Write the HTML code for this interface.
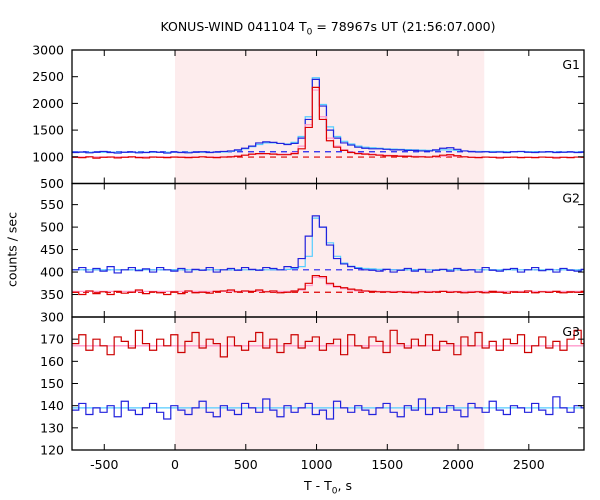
<!DOCTYPE html>
<html><head><meta charset="utf-8"><style>
body{margin:0;background:#fff}
svg{display:block;font-family:"DejaVu Sans","Liberation Sans",sans-serif}
</style></head><body>
<svg id="chart" width="600" height="500"></svg>
<script>
const tStart=-730, binW=50;
const shadeRange=[0,2185];
const xTicks=[-500,0,500,1000,1500,2000,2500];
const g1Ticks=[500,1000,1500,2000,2500,3000];
const g2Ticks=[300,350,400,450,500,550];
const g3Ticks=[120,130,140,150,160,170];
const g1Blue=[1080,1090,1075,1085,1100,1080,1070,1085,1090,1075,1080,1095,1085,1070,1090,1080,1075,1085,1095,1080,1090,1100,1110,1130,1160,1200,1260,1280,1270,1250,1230,1250,1350,1700,2450,1950,1500,1350,1260,1220,1180,1160,1150,1150,1140,1130,1130,1120,1120,1110,1110,1130,1160,1170,1140,1110,1100,1090,1095,1085,1090,1080,1095,1100,1085,1080,1090,1095,1080,1085,1090,1080,1085];
const g1BlueModel=[1085,1085,1085,1085,1085,1085,1085,1085,1085,1085,1085,1085,1085,1085,1085,1085,1085,1085,1085,1085,1085,1090,1100,1120,1150,1190,1230,1260,1260,1250,1240,1270,1380,1750,2480,1980,1560,1380,1290,1240,1200,1180,1170,1160,1150,1145,1140,1135,1130,1125,1120,1120,1130,1130,1120,1110,1100,1100,1100,1100,1100,1095,1095,1095,1095,1095,1090,1090,1090,1090,1090,1090,1090];
const g1Red=[990,985,1000,975,990,995,980,990,1000,985,980,995,990,985,995,990,985,990,1000,990,985,995,1000,1010,1030,1050,1060,1060,1050,1040,1040,1060,1150,1550,2300,1700,1300,1180,1120,1080,1060,1050,1040,1030,1020,1020,1010,1010,1000,1000,995,1010,1030,1040,1020,1000,990,985,995,990,980,990,995,985,990,985,995,990,980,990,985,995,990];
const g1RedModel=[1000,1000,1000,1000,1000,1000,1000,1000,1000,1000,1000,1000,1000,1000,1000,1000,1000,1000,1000,1000,1000,1000,1005,1015,1030,1045,1055,1060,1055,1050,1050,1080,1200,1600,2250,1750,1350,1200,1130,1090,1070,1060,1050,1040,1030,1025,1020,1015,1010,1005,1000,1000,1010,1020,1010,1000,995,995,995,995,995,995,995,995,995,995,995,995,995,995,995,995,995];
const g1BlueBg=1094, g1RedBg=995;
const g2Blue=[405,410,400,408,402,412,398,405,410,403,407,400,410,405,402,408,400,406,404,410,400,405,408,404,410,406,404,410,408,405,412,410,430,480,525,500,460,430,418,412,408,405,404,402,406,400,404,408,402,406,400,404,406,402,408,404,405,400,410,404,402,406,408,400,405,410,403,406,400,408,404,402,406];
const g2BlueModel=[405,405,405,405,405,405,405,405,405,405,405,405,405,405,405,405,405,405,405,405,405,405,405,405,405,405,405,405,405,405,406,408,412,435,520,500,465,435,420,413,410,408,407,406,406,405,405,405,405,405,405,405,405,405,405,405,405,405,405,405,405,405,405,405,405,405,405,405,405,405,405,405,405];
const g2Red=[355,350,358,352,356,350,357,353,355,360,352,356,354,350,356,352,358,354,355,353,357,358,360,356,358,357,360,356,358,354,355,358,362,375,392,390,375,368,365,362,360,358,357,356,356,355,356,355,354,356,355,356,357,355,356,354,355,356,354,357,355,353,356,355,358,354,356,355,357,354,356,355,357];
const g2RedModel=[357,357,357,357,357,357,357,357,357,357,357,357,357,357,357,357,357,357,357,357,357,357,357,357,357,357,357,357,357,357,357,358,360,370,388,387,372,366,363,360,358,357,357,357,357,357,357,357,357,357,357,357,357,357,357,357,357,357,357,357,357,357,357,357,357,357,357,357,357,357,357,357,357];
const g2BlueBg=405, g2RedBg=355;
const g3Red=[168,172,165,170,167,163,171,169,166,174,168,165,170,167,172,164,169,173,166,170,168,162,171,167,165,169,173,166,170,164,168,172,166,169,171,165,168,170,163,172,167,166,171,169,164,174,168,166,170,167,172,165,169,168,163,171,167,173,166,169,165,170,168,172,164,167,171,166,169,165,170,174,168];
const g3Blue=[138,141,136,139,137,140,135,142,138,136,139,141,137,134,140,138,136,139,142,137,135,140,138,136,141,139,137,143,138,135,140,137,139,141,136,138,134,142,139,137,140,138,136,139,141,137,135,140,138,143,136,139,137,140,138,135,141,139,137,142,138,136,140,139,137,141,138,136,144,139,137,140,139];
const g3RedModel=167, g3BlueModel=139;

const NS="http://www.w3.org/2000/svg";
const svg=document.getElementById('chart');
const L=72,R=584;
const xMin=-728,xMax=2890;
const X=v=>L+(v-xMin)/(xMax-xMin)*(R-L);
function mk(tag,attrs,parent){const e=document.createElementNS(NS,tag);for(const k in attrs)e.setAttribute(k,attrs[k]);(parent||svg).appendChild(e);return e;}
const panels=[
 {name:'g1',top:50,bot:183.5,min:500,max:3000,ticks:g1Ticks,label:'G1',series:[[g1BlueModel,'#55ccff','model'],[g1Blue,'#2222dd','step'],[g1RedModel,'#ff99cc','model'],[g1Red,'#dd0000','step']],bgs:[[g1BlueBg,'#2222ee'],[g1RedBg,'#dd0000']]},
 {name:'g2',top:183.5,bot:317,min:300,max:597,ticks:g2Ticks,label:'G2',series:[[g2BlueModel,'#55ccff','model'],[g2Blue,'#2222dd','step'],[g2RedModel,'#ff99cc','model'],[g2Red,'#dd0000','step']],bgs:[[g2BlueBg,'#2222ee'],[g2RedBg,'#dd0000']]},
 {name:'g3',top:317,bot:450,min:120,max:180,ticks:g3Ticks,label:'G3',series:[[g3Red,'#cc0000','step'],[g3Blue,'#2222dd','step']],flat:[[g3RedModel,'#ff99cc'],[g3BlueModel,'#55ccff']]}
];
const sh=mk('rect',{x:X(shadeRange[0]),y:50,width:X(shadeRange[1])-X(shadeRange[0]),height:400,fill:'#fdeced'});


panels.forEach((p,pi)=>{
 const Y=v=>p.bot-(v-p.min)/(p.max-p.min)*(p.bot-p.top);
 const g=mk('g',{});
 
 
 const cp=mk('clipPath',{id:'c'+pi},g);mk('rect',{x:L,y:p.top,width:R-L,height:p.bot-p.top},cp);
 const inner=mk('g',{'clip-path':'url(#c'+pi+')'},g);
 (p.bgs||[]).forEach(b=>{const l=mk('line',{x1:L,x2:R,y1:Y(b[0]),y2:Y(b[0]),stroke:b[1],'stroke-width':1.2,'stroke-dasharray':'6,5'},inner);
  
  });
 (p.flat||[]).forEach(f=>{const l=mk('line',{x1:L,x2:R,y1:Y(f[0]),y2:Y(f[0]),stroke:f[1],'stroke-width':1.3},inner);
  
  });
 p.series.forEach(s=>{
  const a=s[0];let d='';
  for(let i=0;i<a.length;i++){const x0=X(tStart+i*binW),x1=X(tStart+(i+1)*binW),y=Y(a[i]);
   d+=(i===0?'M'+x0+','+y:'V'+y)+'H'+x1;}
  const path=mk('path',{d:d,fill:'none',stroke:s[1],'stroke-width':1.2},inner);
  
  
 });
 mk('rect',{x:L,y:p.top,width:R-L,height:p.bot-p.top,fill:'none',stroke:'#000','stroke-width':1.3},g);
 p.ticks.forEach(t=>{const y=Y(t);
  mk('line',{x1:L,x2:L+6,y1:y,y2:y,stroke:'#000'},g);mk('line',{x1:R,x2:R-6,y1:y,y2:y,stroke:'#000'},g);
  const tx=mk('text',{x:L-8,y:y+4.5,'text-anchor':'end','font-size':12.5,fill:'#000'},g);tx.textContent=t;
  
  });
 xTicks.forEach(t=>{const x=X(t);
  mk('line',{x1:x,x2:x,y1:p.top,y2:p.top+6,stroke:'#000'},g);mk('line',{x1:x,x2:x,y1:p.bot,y2:p.bot-6,stroke:'#000'},g);});
 const lb=mk('text',{x:R-4,y:p.top+19,'text-anchor':'end','font-size':12.5,fill:'#000'},g);lb.textContent=p.label;
 
 
});
xTicks.forEach(t=>{const tx=mk('text',{x:X(t),y:469,'text-anchor':'middle','font-size':12.5},svg);tx.textContent=t;
 
 });
</script>
<div style="position:absolute;left:0;top:0;width:600px;height:500px;pointer-events:none;font-family:'DejaVu Sans','Liberation Sans',sans-serif;font-size:12.5px">
 <div style="position:absolute;left:0;width:656px;top:19px;text-align:center">KONUS-WIND 041104 T<sub style="font-size:9px">0</sub> = 78967s UT (21:56:07.000)</div>
 <div style="position:absolute;left:278px;width:100px;top:478px;text-align:center">T - T<sub style="font-size:9px">0</sub>, s</div>
 <div style="position:absolute;left:-38px;top:242px;width:100px;text-align:center;transform:rotate(-90deg)">counts / sec</div>
</div>
</body></html>
